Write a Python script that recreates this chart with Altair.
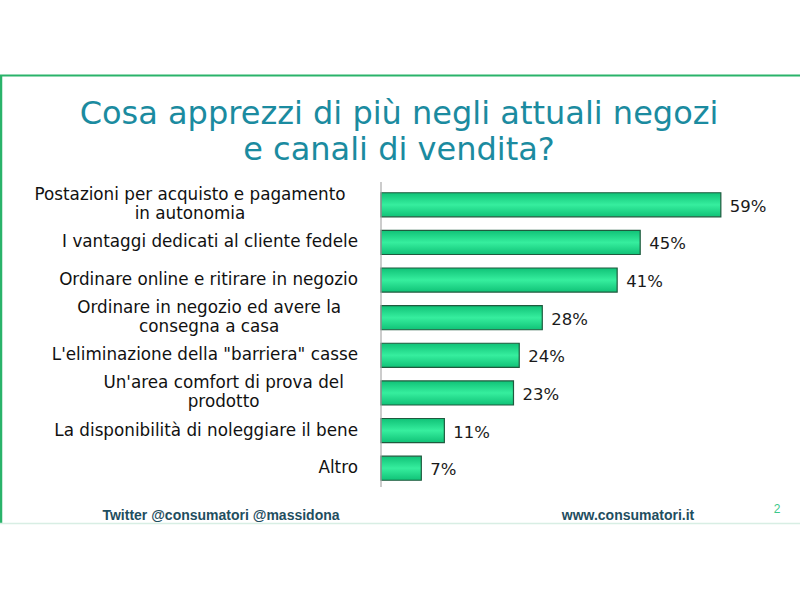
import altair as alt
import pandas as pd

categories = [
    "Postazioni per acquisto e pagamento|in autonomia",
    "I vantaggi dedicati al cliente fedele",
    "Ordinare online e ritirare in negozio",
    "Ordinare in negozio ed avere la|consegna a casa",
    "L'eliminazione della \"barriera\" casse",
    "Un'area comfort di prova del|prodotto",
    "La disponibilità di noleggiare il bene",
    "Altro",
]
values = [59, 45, 41, 28, 24, 23, 11, 7]
title_lines = ["Cosa apprezzi di più negli attuali negozi", "e canali di vendita?"]
footer_left = "Twitter  @consumatori  @massidona"
footer_right = "www.consumatori.it"
page_number = "2"

df = pd.DataFrame({"cat": categories, "val": values})
df["label"] = df["val"].astype(str) + "%"

# label lines: block right-aligned at axis, lines centered within block
CHAR_W = 9.6
RIGHT = 358
rows = []
for c in categories:
    lines = c.split("|")
    if len(lines) == 1:
        rows.append({"cat": c, "line": lines[0], "pos": RIGHT, "align": "right", "dy": 0})
    else:
        w = len(lines[0]) * CHAR_W
        center = RIGHT - w / 2
        for i, ln in enumerate(lines):
            rows.append({"cat": c, "line": ln, "pos": center, "align": "center",
                         "dy": (i - (len(lines) - 1) / 2) * 19})
lab = pd.DataFrame(rows)

PAGE = alt.Scale(domain=[0, 800], range=[0, 800])
PAGEY = alt.Scale(domain=[0, 600], range=[0, 600])
X0 = 381
PX = 5.76
xscale = alt.Scale(domain=[0, 100], range=[X0, X0 + 100 * PX])
yscale = alt.Scale(domain=categories, range=[186, 487], paddingInner=0.36, paddingOuter=0.18)

grad = alt.LinearGradient(
    gradient="linear", x1=0, x2=0, y1=0, y2=1,
    stops=[alt.GradientStop(color="#10c277", offset=0),
           alt.GradientStop(color="#36ee9e", offset=0.5),
           alt.GradientStop(color="#10c277", offset=1)],
)

bars = alt.Chart(df).mark_bar(fill=grad, stroke="#1f5a3e", strokeWidth=1.2).encode(
    x=alt.X("val:Q", scale=xscale, axis=None),
    y=alt.Y("cat:N", scale=yscale, axis=None, sort=categories),
)

vals = alt.Chart(df).mark_text(align="left", baseline="middle", dx=9, dy=2,
                                font="DejaVu Sans", fontSize=16.5, color="#1a1a1a").encode(
    x=alt.X("val:Q", scale=xscale, axis=None),
    y=alt.Y("cat:N", scale=yscale, sort=categories, axis=None),
    text="label:N",
)

def line_layer(align):
    sub = lab[lab["align"] == align]
    layers = []
    for dy in sorted(sub["dy"].unique()):
        s = sub[sub["dy"] == dy]
        layers.append(
            alt.Chart(s).mark_text(align=align, baseline="middle", dy=float(dy),
                                   font="DejaVu Sans", fontSize=16.8, color="#111111").encode(
                x=alt.X("pos:Q", scale=PAGE, axis=None),
                y=alt.Y("cat:N", scale=yscale, sort=categories, axis=None),
                text="line:N",
            )
        )
    return layers

axis_line = alt.Chart(pd.DataFrame({"a": [0]})).mark_rule(color="#aaaaaa", strokeWidth=1.2).encode(
    x=alt.value(X0), y=alt.value(182), y2=alt.value(487))

title_df = pd.DataFrame({"t": title_lines, "yy": [124, 160]})
title = alt.Chart(title_df).mark_text(align="center", baseline="alphabetic", font="DejaVu Sans",
                                      fontSize=32, color="#1b8ba0").encode(
    x=alt.value(399), y=alt.Y("yy:Q", scale=PAGEY, axis=None), text="t:N")

foot_df = pd.DataFrame({"t": [footer_left, footer_right], "xx": [221, 628]})
footer = alt.Chart(foot_df).mark_text(align="center", baseline="middle", font="Liberation Sans",
                                      fontSize=14, fontWeight="bold", color="#1f4e5f").encode(
    x=alt.X("xx:Q", scale=PAGE, axis=None), y=alt.value(516), text="t:N")

pnum = alt.Chart(pd.DataFrame({"t": [page_number]})).mark_text(
    align="center", baseline="middle", font="Liberation Sans", fontSize=12, color="#3cc88a").encode(
    x=alt.value(777), y=alt.value(509), text="t:N")

frame_top = alt.Chart(pd.DataFrame({"a": [0]})).mark_rule(color="#2ab36a", strokeWidth=2).encode(
    x=alt.value(0), x2=alt.value(800), y=alt.value(75.5))
frame_left = alt.Chart(pd.DataFrame({"a": [0]})).mark_rule(color="#2ab36a", strokeWidth=2.5).encode(
    x=alt.value(1), y=alt.value(75), y2=alt.value(523))
frame_bottom = alt.Chart(pd.DataFrame({"a": [0]})).mark_rule(color="#d8eee4", strokeWidth=1.5).encode(
    x=alt.value(0), x2=alt.value(800), y=alt.value(523.5))

chart = alt.layer(
    frame_top, frame_left, frame_bottom,
    title, bars, vals, *line_layer("right"), *line_layer("center"),
    axis_line, footer, pnum,
).resolve_scale(x="independent", y="independent").properties(
    width=800, height=600, autosize=alt.AutoSizeParams(type="none"), padding=0,
    background="white",
).configure_view(stroke=None)

chart.save("out.html", embed_options={"renderer": "svg", "actions": False})
